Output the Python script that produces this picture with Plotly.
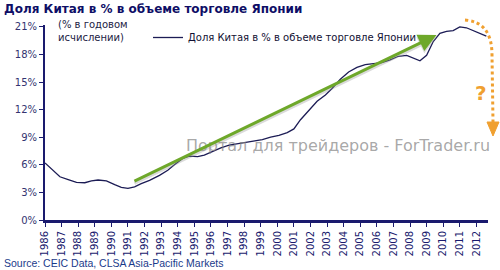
import plotly.graph_objects as go

# ---- data ----
years = [1986.0, 1986.4, 1986.9, 1987.4, 1987.9, 1988.4, 1988.8, 1989.2, 1989.7, 1990.2,
         1990.6, 1991.0, 1991.4, 1991.8, 1992.3, 1992.9, 1993.4, 1993.8, 1994.3, 1994.7,
         1995.2, 1995.6, 1996.1, 1996.6, 1997.1, 1997.6, 1998.1, 1998.6, 1999.1, 1999.6,
         2000.1, 2000.6, 2001.0, 2001.4, 2001.9, 2002.4, 2002.9, 2003.3, 2003.8, 2004.3,
         2004.8, 2005.3, 2005.8, 2006.3, 2006.8, 2007.3, 2007.8, 2008.2, 2008.6, 2009.0,
         2009.4, 2009.8, 2010.2, 2010.6, 2011.0, 2011.4, 2011.8, 2012.2, 2012.6]
share = [6.2, 5.5, 4.7, 4.4, 4.1, 4.05, 4.25, 4.35, 4.25, 3.85,
         3.55, 3.45, 3.6, 3.95, 4.3, 4.85, 5.4, 6.0, 6.7, 6.95,
         6.9, 7.05, 7.45, 7.85, 8.15, 8.3, 8.5, 8.6, 8.75, 9.0,
         9.2, 9.5, 9.9, 10.9, 11.9, 12.9, 13.6, 14.3, 15.3, 16.1,
         16.6, 16.9, 17.0, 17.1, 17.4, 17.8, 17.9, 17.6, 17.3, 17.9,
         19.4, 20.3, 20.5, 20.6, 21.0, 20.9, 20.6, 20.3, 20.0]
tick_years = list(range(1986, 2013))
tick_labels = [str(y) for y in tick_years]
y_ticks = [0, 3, 6, 9, 12, 15, 18, 21]
y_labels = [f"{v}%" for v in y_ticks]
trend_start = (1991.3, 4.15)
trend_end = (2009.6, 20.1)

title = "Доля Китая в % в объеме торговле Японии"
series_name = "Доля Китая в % в объеме торговле Японии"
unit_note = "(% в годовом<br>исчислении)"
source = "Source: CEIC Data, CLSA Asia-Pacific Markets"
watermark = "Портал для трейдеров - ForTrader.ru"

# ---- layout geometry (pixels) ----
W, H = 500, 270
L, R, T, B = 45, 12, 25, 50
PW, PH = W - L - R, H - T - B


def px(x):
    return (x - L) / PW


def py(y):
    return (H - B - y) / PH


NAVY = "#1a1a6e"
ORANGE = "#f0a030"
GREEN = "#6ea82a"

fig = go.Figure()
fig.add_trace(go.Scatter(x=years, y=share, mode="lines", name=series_name,
                         line=dict(color="#1c1c55", width=1.3)))

fig.update_layout(
    width=W, height=H, margin=dict(l=L, r=R, t=T, b=B),
    paper_bgcolor="white", plot_bgcolor="white",
    font=dict(family="DejaVu Sans", size=10, color=NAVY),
    showlegend=True,
    legend=dict(x=px(148), y=py(23), xanchor="left", yanchor="top",
                bgcolor="rgba(0,0,0,0)", borderwidth=0,
                font=dict(size=10, color="#111133"), itemwidth=30),
    xaxis=dict(range=[1986, 2012.7], tickvals=tick_years, ticktext=tick_labels,
               tickangle=-90, ticks="outside", ticklen=4, tickwidth=1, tickcolor=NAVY,
               showgrid=False, zeroline=False, showline=True, linecolor=NAVY, linewidth=3,
               tickfont=dict(size=10, color=NAVY)),
    yaxis=dict(range=[0, 21.2], tickvals=y_ticks, ticktext=y_labels,
               ticks="outside", ticklen=4, tickwidth=1, tickcolor=NAVY,
               showgrid=False, zeroline=False, showline=True, linecolor=NAVY, linewidth=2,
               tickfont=dict(size=10, color="#333370")),
)

# Title
fig.add_annotation(text=f"<b>{title}</b>", xref="paper", yref="paper",
                   x=px(2), y=py(0), xanchor="left", yanchor="top", showarrow=False,
                   font=dict(size=12, color="#0e0e66"))
# Unit note
fig.add_annotation(text=unit_note, xref="paper", yref="paper", align="left",
                   x=px(56), y=py(17), xanchor="left", yanchor="top", showarrow=False,
                   font=dict(size=10, color="#222244"))
# Source
fig.add_annotation(text=source, xref="paper", yref="paper",
                   x=px(2), y=py(255), xanchor="left", yanchor="top", showarrow=False,
                   font=dict(family="Liberation Sans", size=10.5, color="#1a3a8a"))
# Watermark
fig.add_annotation(text=watermark, xref="paper", yref="paper",
                   x=px(338), y=py(145), xanchor="center", yanchor="middle", showarrow=False,
                   font=dict(size=16, color="rgba(130,130,130,0.7)"))

# Trend arrow shadow + arrow
fig.add_annotation(x=trend_end[0], y=trend_end[1] - 0.25, ax=trend_start[0], ay=trend_start[1] - 0.25,
                   xref="x", yref="y", axref="x", ayref="y", text="",
                   showarrow=True, arrowhead=2, arrowsize=1.2, arrowwidth=3,
                   arrowcolor="rgba(150,150,150,0.35)")
fig.add_annotation(x=trend_end[0], y=trend_end[1], ax=trend_start[0], ay=trend_start[1],
                   xref="x", yref="y", axref="x", ayref="y", text="",
                   showarrow=True, arrowhead=2, arrowsize=1.2, arrowwidth=3,
                   arrowcolor=GREEN)

# Orange dotted arc + arrowhead
arc = (f"M {px(465)},{py(20)} Q {px(492)},{py(22)} {px(492)},{py(55)} "
       f"L {px(493)},{py(122)}")
fig.add_shape(type="path", path=arc, xref="paper", yref="paper",
              line=dict(color=ORANGE, width=3, dash="dot"))
head = f"M {px(487)},{py(122)} L {px(499)},{py(122)} L {px(493)},{py(136)} Z"
fig.add_shape(type="path", path=head, xref="paper", yref="paper",
              line=dict(color=ORANGE, width=1), fillcolor=ORANGE)
fig.add_annotation(text="<b>?</b>", xref="paper", yref="paper",
                   x=px(481), y=py(93), xanchor="center", yanchor="middle", showarrow=False,
                   font=dict(size=20, color=ORANGE))

fig.write_html("out.html")
